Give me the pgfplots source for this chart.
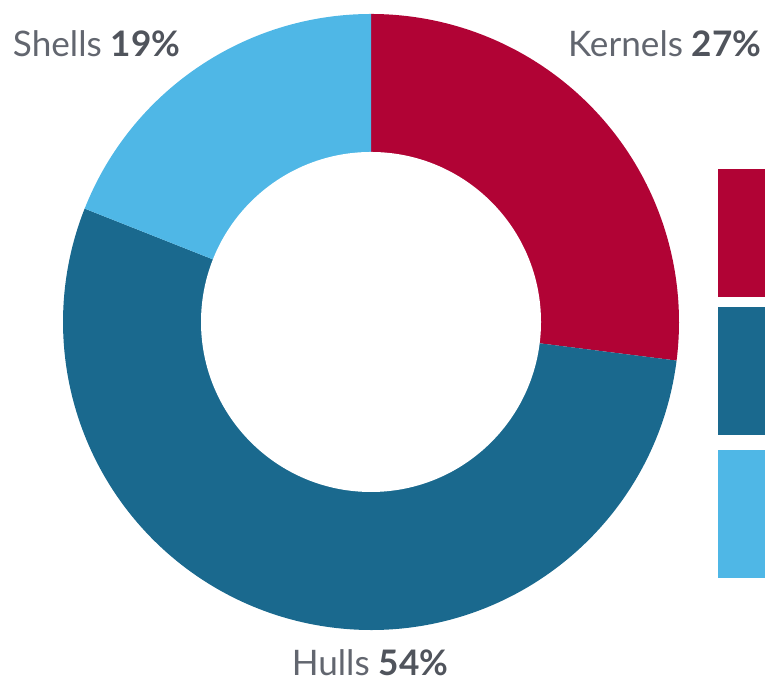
\documentclass[border=0pt]{standalone}
\usepackage{pgfplots}
\pgfplotsset{compat=1.18}
\usepackage{fontspec}
\setmainfont{Lato}
\definecolor{cK}{HTML}{B10335}
\definecolor{cH}{HTML}{1A698E}
\definecolor{cS}{HTML}{4FB7E6}
\definecolor{txt}{HTML}{62666F}
\definecolor{txtb}{HTML}{50545C}

% shares in percent
\def\vK{27}
\def\vH{54}
\def\vS{19}

\begin{document}
\begin{tikzpicture}
% start angles, clockwise from the top
\pgfmathsetmacro\aK{90}
\pgfmathsetmacro\bK{\aK-3.6*\vK}
\pgfmathsetmacro\bH{\bK-3.6*\vH}
\pgfmathsetmacro\bS{\bH-3.6*\vS}
\begin{axis}[x=0.1mm,y=0.1mm,xmin=0,xmax=765,ymin=0,ymax=679,hide axis,clip=true]
\fill[cK] (axis cs:371,357) -- ++(\aK:30.8mm) arc[start angle=\aK,end angle=\bK,radius=30.8mm] -- cycle;
\fill[cH] (axis cs:371,357) -- ++(\bK:30.8mm) arc[start angle=\bK,end angle=\bH,radius=30.8mm] -- cycle;
\fill[cS] (axis cs:371,357) -- ++(\bH:30.8mm) arc[start angle=\bH,end angle=\bS,radius=30.8mm] -- cycle;
\fill[white] (axis cs:371,357) circle[radius=17mm];
% legend swatches, cut by the right edge
\addplot[draw=none,fill=cK] coordinates {(718,382) (790,382) (790,510) (718,510)} -- cycle;
\addplot[draw=none,fill=cH] coordinates {(718,244) (790,244) (790,372) (718,372)} -- cycle;
\addplot[draw=none,fill=cS] coordinates {(718,101) (790,101) (790,229) (718,229)} -- cycle;
\tikzset{lbl/.style={font=\fontsize{10}{12}\selectfont,text=txt,inner sep=0pt,outer sep=0pt}}
\node[lbl,anchor=base west] at (axis cs:13,622) {Shells \textcolor{txtb}{\textbf{\vS\%}}};
\node[lbl,anchor=base west] at (axis cs:568,622) {Kernels \textcolor{txtb}{\textbf{\vK\%}}};
\node[lbl,anchor=base] at (axis cs:370,3) {Hulls \textcolor{txtb}{\textbf{\vH\%}}};
\coordinate (SW) at (axis cs:0,0);
\coordinate (NE) at (axis cs:765,679);
\end{axis}
\pgfresetboundingbox
\path[use as bounding box] (SW) rectangle (NE);
\end{tikzpicture}
\end{document}
